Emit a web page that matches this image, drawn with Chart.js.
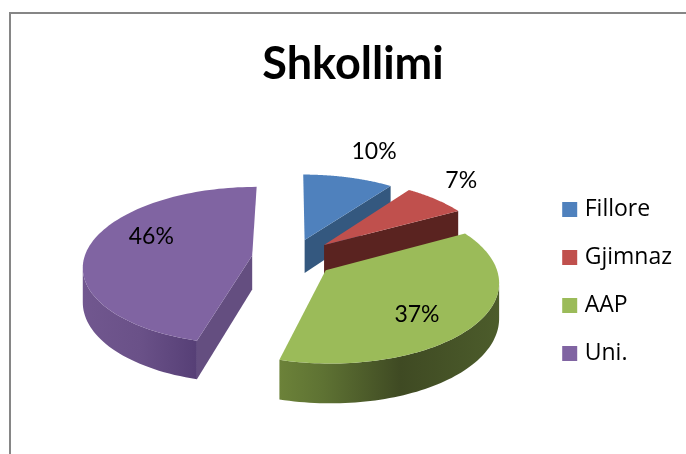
<!DOCTYPE html>
<html>
<head>
<meta charset="utf-8">
<title>Shkollimi</title>
<script src="https://cdn.jsdelivr.net/npm/chart.js@4"></script>
<style>
    html, body { margin: 0; padding: 0; background: #fff; }
    canvas { display: block; }
</style>
</head>
<body>
<canvas id="pieChart" width="686" height="454"></canvas>
<script>
// Data
const categories = ['Fillore', 'Gjimnaz', 'AAP', 'Uni.'];
const shares = [10, 7, 37.2, 45.8];

// Colours
const topColors = ['#4F81BD', '#C0504D', '#9BBB59', '#8064A2'];
const wallColors = ['#34587F', '#5A2320', '#4A5A2A', '#644E80'];
const rimStops = [
    [[0, '#34587F'], [1, '#34587F']],
    [[0, '#5A2320'], [1, '#5A2320']],
    [[0, '#6C8239'], [0.2, '#5E7233'], [0.55, '#3F4A23'], [1, '#4C5C2B']],
    [[0, '#71578F'], [0.5, '#6A5188'], [1, '#563F76']]
];

// How the flat pie is tilted into the page
const view = { cx: 292, cy: 258, rx: 168, ry: 78, persp: 0.127, depth: 34 };
const explode = [0.25, 0.26, 0.25, 0.24];
// radius factor and angle shift (deg) of each percent label
const labelSpots = [[1.5, 2], [1.365, -4], [0.7, 8], [0.679, 14.4]];
// legend nudge from where the layout puts it
const legendShift = { x: -4, y: 36 };

function project(x, y, z) {
    const s = 1 / (1 - view.persp * y);
    return [view.cx + view.rx * x * s, view.cy + view.ry * y * s + view.depth * z * s];
}

function slicePoint(i, mid, angle, r, z) {
    return project(
        explode[i] * Math.cos(mid) + r * Math.cos(angle),
        explode[i] * Math.sin(mid) + r * Math.sin(angle),
        z
    );
}

function fillPoly(ctx, points, style) {
    ctx.beginPath();
    points.forEach((p, n) => n ? ctx.lineTo(p[0], p[1]) : ctx.moveTo(p[0], p[1]));
    ctx.closePath();
    ctx.fillStyle = style;
    ctx.fill();
}

// negative means this strip of the side faces the viewer
function signedArea(a, b, c, d) {
    const pts = [a, b, c, d];
    let sum = 0;
    pts.forEach((p, n) => {
        const q = pts[(n + 1) % 4];
        sum += p[0] * q[1] - q[0] * p[1];
    });
    return sum;
}

function drawWall(ctx, i, from, to) {
    const a = from(0), b = to(0), c = to(1), d = from(1);
    // skip the thin slivers of walls seen almost edge on
    if (signedArea(a, b, c, d) < -1000) fillPoly(ctx, [a, b, c, d], wallColors[i]);
}

function drawSlice(ctx, arc, i) {
    const start = arc.startAngle, end = arc.endAngle;
    const mid = (start + end) / 2;
    const steps = 90;
    const tip = z => slicePoint(i, mid, mid, 0, z);
    const rim = (angle, z) => slicePoint(i, mid, angle, 1, z);

    // outer side, only the part turned to the viewer
    const near = [], far = [];
    for (let n = 0; n < steps; n++) {
        const a1 = start + (end - start) * n / steps;
        const a2 = start + (end - start) * (n + 1) / steps;
        if (signedArea(rim(a1, 0), rim(a2, 0), rim(a2, 1), rim(a1, 1)) < 0) {
            if (!near.length) { near.push(rim(a1, 0)); far.push(rim(a1, 1)); }
            near.push(rim(a2, 0));
            far.push(rim(a2, 1));
        }
    }
    if (near.length) {
        const xs = near.concat(far).map(p => p[0]);
        const grad = ctx.createLinearGradient(Math.min(...xs), 0, Math.max(...xs), 0);
        rimStops[i].forEach(s => grad.addColorStop(s[0], s[1]));
        fillPoly(ctx, near.concat(far.reverse()), grad);
    }

    // cut faces
    drawWall(ctx, i, tip, z => rim(start, z));
    drawWall(ctx, i, z => rim(end, z), tip);

    // top face
    const top = [tip(0)];
    for (let n = 0; n <= steps; n++) top.push(rim(start + (end - start) * n / steps, 0));
    fillPoly(ctx, top, topColors[i]);
}

// The library works out the slice angles, this paints them tilted
const tiltedPie = {
    id: 'tiltedPie',
    afterLayout(chart) {
        const legend = chart.legend;
        legend.left += legendShift.x;
        legend.right += legendShift.x;
        legend.top += legendShift.y;
        legend.bottom += legendShift.y;
    },
    beforeDraw(chart) {
        const ctx = chart.ctx;
        ctx.save();
        ctx.strokeStyle = '#868686';
        ctx.lineWidth = 2;
        ctx.beginPath();
        ctx.moveTo(10, 454);
        ctx.lineTo(10, 13);
        ctx.lineTo(686, 13);
        ctx.stroke();
        ctx.restore();
    },
    beforeDatasetsDraw(chart) {
        const ctx = chart.ctx;
        const arcs = chart.getDatasetMeta(0).data;
        const total = shares.reduce((a, b) => a + b, 0);
        ctx.save();
        arcs.forEach((arc, i) => drawSlice(ctx, arc, i));
        ctx.fillStyle = '#000';
        ctx.font = '23px Lato';
        ctx.textAlign = 'center';
        ctx.textBaseline = 'middle';
        arcs.forEach((arc, i) => {
            const mid = (arc.startAngle + arc.endAngle) / 2;
            const p = slicePoint(i, mid, mid + labelSpots[i][1] * Math.PI / 180, labelSpots[i][0], 0);
            ctx.fillText(Math.round(shares[i] / total * 100) + '%', p[0], p[1]);
        });
        ctx.restore();
        return false;
    }
};

new Chart(document.getElementById('pieChart'), {
    type: 'pie',
    data: {
        labels: categories,
        datasets: [{
            data: shares,
            backgroundColor: topColors,
            borderColor: topColors,
            borderWidth: 8
        }]
    },
    options: {
        responsive: false,
        animation: false,
        layout: { padding: { left: 20, top: 37, right: 0, bottom: 0 } },
        plugins: {
            tooltip: { enabled: false },
            title: {
                display: true,
                text: 'Shkollimi',
                color: '#000',
                font: { family: 'Lato', size: 45, weight: 'bold' },
                padding: { top: 0, bottom: 10 }
            },
            legend: {
                position: 'right',
                labels: {
                    color: '#000',
                    font: { family: 'Open Sans', size: 23 },
                    boxWidth: 7,
                    boxHeight: 7,
                    padding: 25
                }
            }
        }
    },
    plugins: [tiltedPie]
});
</script>
</body>
</html>
